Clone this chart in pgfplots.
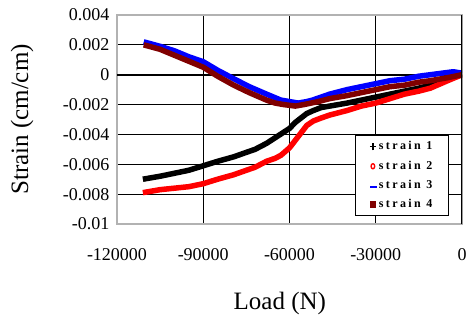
\documentclass[border=0pt]{standalone}
\usepackage{pgfplots}
\pgfplotsset{compat=1.18}
\usepackage{fontspec}
\setmainfont{Liberation Serif}
\definecolor{sbrown}{RGB}{128,0,0}
\definecolor{sblue}{RGB}{0,0,255}
\definecolor{sred}{RGB}{255,0,0}
\begin{document}
\begin{tikzpicture}
\begin{axis}[
 scale only axis, width=345bp, height=209bp,
 xmin=-120000, xmax=0, ymin=-0.01, ymax=0.004,
 xtick={-120000,-90000,-60000,-30000,0},
 xticklabels={-120000,-90000,-60000,-30000,0},
 ytick={-0.01,-0.008,-0.006,-0.004,-0.002,0,0.002,0.004},
 yticklabels={-0.01,-0.008,-0.006,-0.004,-0.002,0,0.002,0.004},
 scaled ticks=false,
 grid=major, major grid style={black, line width=0.9bp},
 tick style={draw=none},
 axis line style={gray!60, line width=1.2bp},
 ticklabel style={font=\fontsize{18bp}{20bp}\selectfont},
 xticklabel style={yshift=-21bp},
 yticklabel style={xshift=-4bp},
 xlabel={Load (N)}, ylabel={Strain (cm/cm)},
 label style={font=\fontsize{25bp}{28bp}\selectfont},
 xlabel style={at={(axis description cs:0.472,-0.378)}, anchor=center},
 ylabel style={at={(axis description cs:-0.275,0.5)}, anchor=center},
 legend style={at={(rel axis cs:0.962,0.426)}, anchor=north east, draw=black, line width=1.2bp,
   font=\fontsize{12bp}{14bp}\selectfont\bfseries\addfontfeature{LetterSpace=20},
   row sep=5.5bp, inner xsep=14bp, inner ysep=4bp},
 legend cell align=left,
]
\addplot[black, line width=1.6bp, forget plot] coordinates {(-120000,0) (0,0)};
\addplot[black, line width=5.5bp, line join=round,
 legend image code/.code={\draw[black,line width=1.4bp] (3bp,-4bp)--(3bp,3bp) (0bp,0bp)--(6bp,0bp);}]
 coordinates {
(-111000,-0.0070) (-105000,-0.0068) (-100000,-0.0066) (-95000,-0.0064) (-90000,-0.0061) (-85000,-0.0058) (-79400,-0.0055) (-75000,-0.0052) (-72000,-0.0050)
(-68000,-0.0046) (-64000,-0.0041) (-60000,-0.0036) (-58000,-0.0032) (-56000,-0.0029) (-54000,-0.0026) (-51700,-0.0024) (-49000,-0.0022)
(-46000,-0.0021) (-40000,-0.0019) (-35000,-0.0017) (-30000,-0.0015) (-25000,-0.0013) (-20000,-0.0011) (-15000,-0.0009) (-11000,-0.0007) (-5000,-0.0003) (0,0)};
\addlegendentry{strain 1}
\addplot[sred, line width=5.5bp, line join=round,
 legend image code/.code={\draw[sred,line width=1.4bp] (3bp,-0.5bp) ellipse (1.8bp and 2.6bp);}]
 coordinates {
(-111000,-0.0079) (-105000,-0.0077) (-100000,-0.0076) (-95000,-0.0075) (-90000,-0.0073) (-85000,-0.0070) (-79400,-0.0067) (-75000,-0.0064) (-72000,-0.0062)
(-68000,-0.0058) (-65000,-0.0056) (-63000,-0.0054) (-60000,-0.0049) (-58000,-0.0044) (-56000,-0.0039) (-54000,-0.0034) (-51700,-0.0031) (-49000,-0.0029)
(-46000,-0.0027) (-40000,-0.0024) (-35000,-0.0021) (-30000,-0.0019) (-25000,-0.0016) (-20000,-0.0013) (-15000,-0.0011) (-11000,-0.0009) (-5000,-0.0004) (0,0)};
\addlegendentry{strain 2}
\addplot[sblue, line width=5.5bp, line join=round,
 legend image code/.code={\path[fill=sblue, draw=none, line width=0pt] (0bp,-3bp) rectangle (7bp,-0.5bp);}]
 coordinates {
(-110700,0.0022) (-105000,0.0019) (-100000,0.0016) (-95000,0.0012) (-90000,0.00087) (-85000,0.0003) (-79400,-0.00027) (-74000,-0.0008)
(-68000,-0.0013) (-63000,-0.0017) (-60000,-0.0018) (-57000,-0.0019) (-54000,-0.0018) (-52000,-0.0017) (-49000,-0.0015) (-46000,-0.0013)
(-40000,-0.0010) (-35000,-0.0008) (-30000,-0.0006) (-25000,-0.0004) (-20000,-0.0003) (-15000,-0.0001) (-11000,0.0000) (-3000,0.0002) (0,0.0001)};
\addlegendentry{strain 3}
\addplot[sbrown, line width=5.5bp, line join=round,
 legend image code/.code={\path[fill=sbrown, draw=none, line width=0pt] (0bp,-3.5bp) rectangle (6.5bp,3bp);}]
 coordinates {
(-110700,0.0020) (-105000,0.0017) (-100000,0.0013) (-95000,0.0009) (-90000,0.0005) (-85000,-0.0001) (-79400,-0.0007) (-74000,-0.0012)
(-68000,-0.0017) (-65000,-0.0019) (-62000,-0.0020) (-58000,-0.0021) (-55000,-0.0020) (-50000,-0.0018)
(-46000,-0.0016) (-40000,-0.0014) (-35000,-0.0012) (-30000,-0.0010) (-25000,-0.0008) (-20000,-0.0007) (-15000,-0.0005) (-11000,-0.0004) (-5000,-0.0002) (0,0)};
\addlegendentry{strain 4}
\draw[black, line width=1.6bp] (rel axis cs:1,0) -- (rel axis cs:1,1);
\end{axis}
\pgfresetboundingbox
\path (current axis.south west) ++(-117bp,-96bp) rectangle ++(467bp,320bp);
\end{tikzpicture}
\end{document}
